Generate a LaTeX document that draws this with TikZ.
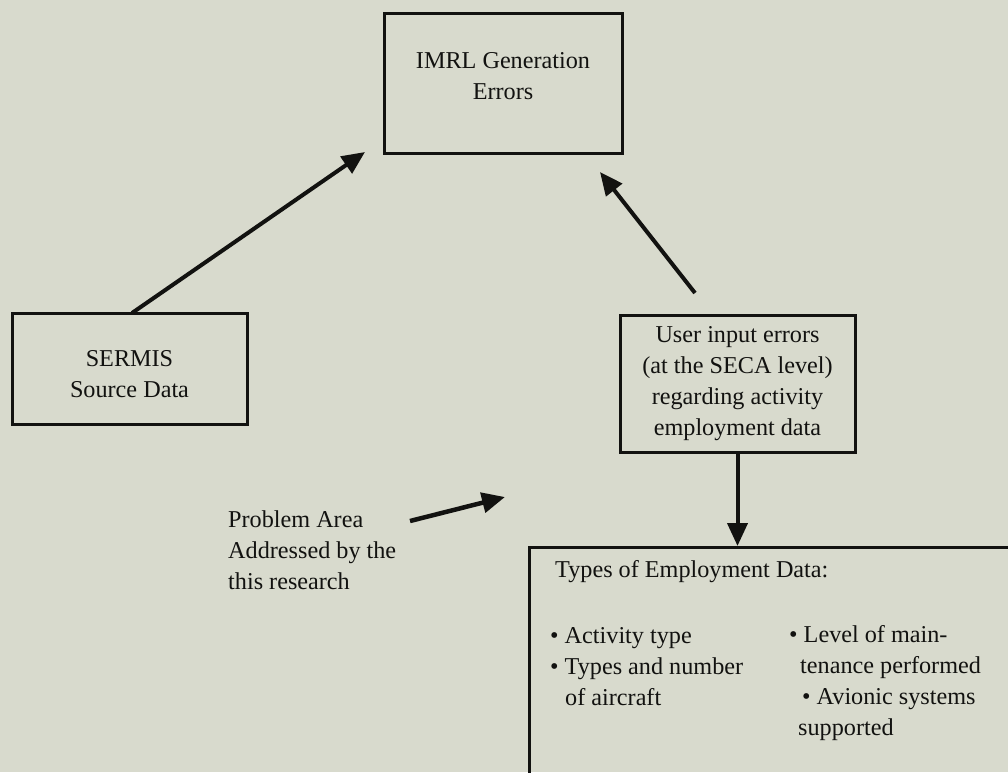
\documentclass[tikz,border=0pt]{standalone}
\usepackage{fontspec}
\setmainfont{Liberation Serif}
\usetikzlibrary{arrows.meta}
\definecolor{bg}{RGB}{216,218,205}
\definecolor{ink}{RGB}{18,18,16}
\begin{document}
\begin{tikzpicture}[x=1pt,y=-1pt,
  boxshape/.style={draw=ink,line width=3pt,rectangle,inner sep=0pt},
  txt/.style={text=ink,inner sep=0pt,font=\fontsize{24.2}{30.8}\selectfont},
  arr/.style={draw=ink,line width=4pt,-{Triangle[length=23pt,width=20pt]}}]
\fill[bg] (0,0) rectangle (1008,772);
\useasboundingbox (0,0) rectangle (1008,772);
\clip (0,0) rectangle (1008,772);
% boxes
\node[boxshape,minimum width=238pt,minimum height=140pt] (imrl) at (503,83) {};
\node[boxshape,minimum width=235pt,minimum height=111pt] (sermis) at (129.5,368.5) {};
\node[boxshape,minimum width=235pt,minimum height=137pt] (user) at (737.5,383.5) {};
\node[boxshape,minimum width=520pt,minimum height=260pt,anchor=north west] (emp) at (528,546) {};
% texts (anchor base = baseline of last line)
\node[txt,align=center,anchor=base] (imrlt) at (503,99) {IMRL Generation\\Errors};
\node[txt,align=center,anchor=base] (sermist) at (129.5,397) {SERMIS\\Source Data};
\node[txt,align=center,anchor=base] (usert) at (737.5,435) {User input errors\\(at the SECA level)\\regarding activity\\employment data};
\node[txt,align=left,anchor=base west] (prob) at (228,589) {Problem Area\\Addressed by the\\this research};
\node[txt,anchor=base west] (empt) at (555,577) {Types of Employment Data:};
\node[txt,align=left,anchor=base west] (col1) at (550,705) {\textbullet\ Activity type\\\textbullet\ Types and number\\\hspace*{15pt}of aircraft};
\node[txt,align=left,anchor=base west] (col2) at (789,735) {\textbullet\ Level of main-\\\hspace*{11pt}tenance performed\\\hspace*{13pt}\textbullet\ Avionic systems\\\hspace*{9pt}supported};
% connectors
\coordinate (a1s) at (132,313);
\coordinate (a1e) at (365,152);
\coordinate (a2s) at (695,293);
\coordinate (a2e) at (600,172);
\coordinate (a4s) at (410,521);
\coordinate (a4e) at (505,497);
\draw[arr] (a1s) -- (a1e);
\draw[arr] (a2s) -- (a2e);
\draw[arr] (user.south) -- (user.south |- emp.north);
\draw[arr,line width=4.5pt] (a4s) -- (a4e);
\end{tikzpicture}
\end{document}
